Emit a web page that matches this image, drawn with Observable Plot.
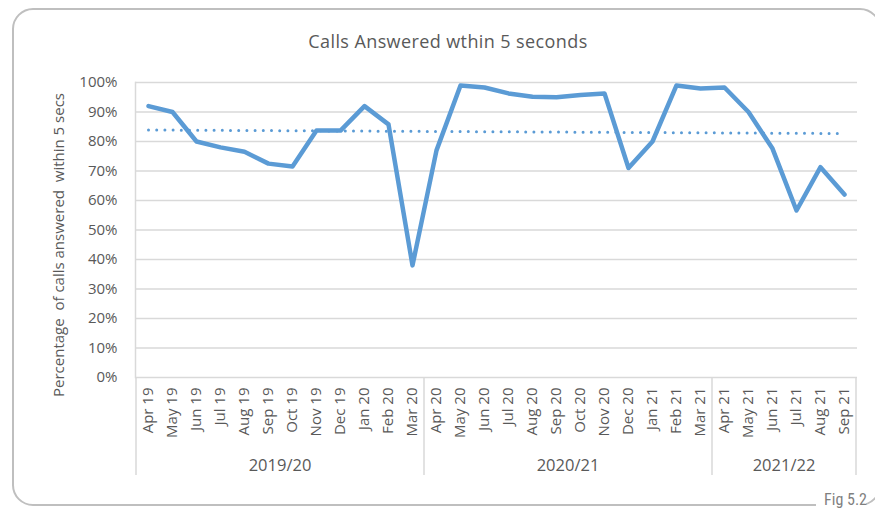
<!DOCTYPE html>
<html><head><meta charset="utf-8">
<script src="https://cdn.jsdelivr.net/npm/d3@7"></script>
<script src="https://cdn.jsdelivr.net/npm/@observablehq/plot@0.6"></script>
<style>
body{margin:0;background:#fff;}
#chart svg{font-family:"Open Sans","Noto Sans",sans-serif;}
</style>
</head><body><div id="chart"></div>
<script>
const months = ["Apr 19","May 19","Jun 19","Jul 19","Aug 19","Sep 19","Oct 19","Nov 19","Dec 19","Jan 20","Feb 20","Mar 20",
"Apr 20","May 20","Jun 20","Jul 20","Aug 20","Sep 20","Oct 20","Nov 20","Dec 20","Jan 21","Feb 21","Mar 21",
"Apr 21","May 21","Jun 21","Jul 21","Aug 21","Sep 21"];
const values = [92,90,80,78,76.5,72.5,71.5,83.7,83.7,92,85.8,38,
77,99,98.3,96.3,95.2,95,95.8,96.3,71,80,99,98,
98.3,90,77.6,56.6,71.3,62];
const years = ["2019/20","2020/21","2021/22"];
const yearCounts = [12,12,6];
const trendMonths = ["Apr 19","Sep 21"];
const trendValues = [83.9,82.7];
const yTicks = [0,10,20,30,40,50,60,70,80,90,100];
const title = "Calls Answered wthin 5 seconds";
const yLabel = "Percentage  of calls answered  within 5 secs";
const figLabel = "Fig 5.2";

const data = months.map((m,i)=>({month:m, value:values[i]}));
const trend = trendMonths.map((m,i)=>({month:m, value:trendValues[i]}));

const W=875, H=508, ml=135, mr=18, mt=82, mb=131;
const grid = "#d9d9d9", txt = "#595959", blue = "#5B9BD5";

const plot = Plot.plot({
  width:W, height:H, marginLeft:ml, marginRight:mr, marginTop:mt, marginBottom:mb,
  style:{fontSize:"14.5px", color:txt, background:"white", overflow:"visible"},
  x:{type:"point", domain:months, padding:0.5},
  y:{domain:[0,100]},
  marks:[
    Plot.ruleY(yTicks,{stroke:grid, strokeWidth:1.5}),
    Plot.frame({anchor:"left", stroke:grid, strokeWidth:1.5}),
    Plot.axisY({ticks:yTicks, tickFormat:d=>d+"%", tickSize:0, tickPadding:18, label:null, fill:txt, fontSize:15}),
    Plot.axisX({tickRotate:-90, tickSize:0, tickPadding:10, label:null, fill:txt, fontSize:15}),
    Plot.line(trend,{x:"month", y:"value", stroke:blue, strokeWidth:3, strokeDasharray:"0 8.2", strokeLinecap:"round"}),
    Plot.line(data,{x:"month", y:"value", stroke:blue, strokeWidth:4.5, strokeLinejoin:"round", strokeLinecap:"round"})
  ]
});
document.getElementById("chart").appendChild(plot);

const svg = d3.select(plot);
const sx = plot.scale("x");
const step = sx.apply(months[1]) - sx.apply(months[0]);
const y0 = H - mb;

svg.insert("rect", ":first-child")
  .attr("x",13).attr("y",9).attr("width",867).attr("height",496).attr("rx",20)
  .attr("fill","none").attr("stroke","#bfbfbf").attr("stroke-width",2);
svg.insert("rect", ":first-child").attr("width",W).attr("height",H).attr("fill","white");

let idx = 0;
const bounds = [];
years.forEach((yr,g)=>{
  const first = months[idx], last = months[idx+yearCounts[g]-1];
  const xa = sx.apply(first) - step/2, xb = sx.apply(last) + step/2;
  if (g===0) bounds.push(xa);
  bounds.push(xb);
  svg.append("text").attr("x",(xa+xb)/2).attr("y",471).attr("text-anchor","middle")
    .attr("fill",txt).attr("font-size",16.5).text(yr);
  idx += yearCounts[g];
});
bounds.forEach(b=>{
  svg.append("line").attr("x1",b).attr("x2",b).attr("y1",y0).attr("y2",475)
    .attr("stroke",grid).attr("stroke-width",1.5);
});

svg.append("text").attr("x",448).attr("y",48).attr("text-anchor","middle")
  .attr("fill",txt).attr("font-size",18).attr("letter-spacing",0.4).text(title);
svg.append("text").attr("transform","translate(64,245) rotate(-90)").attr("text-anchor","middle")
  .attr("fill",txt).attr("font-size",15).style("white-space","pre").text(yLabel);
svg.append("rect").attr("x",816).attr("y",494).attr("width",50).attr("height",14).attr("fill","white");
svg.append("text").attr("x",867).attr("y",505).attr("text-anchor","end")
  .attr("fill","#7f7f7f").attr("font-size",16).style("font-stretch","condensed")
  .attr("font-family","'Liberation Sans Narrow','Roboto Condensed',Roboto,sans-serif").text(figLabel);
</script>
</body></html>
